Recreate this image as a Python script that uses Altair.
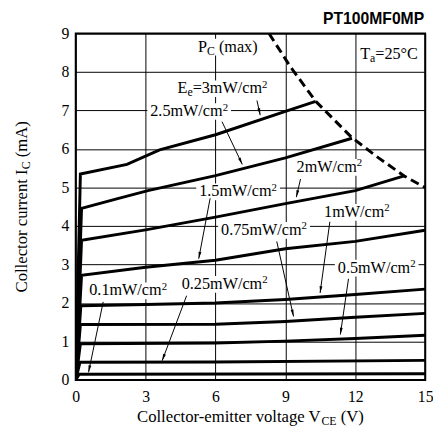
import math
import altair as alt
import pandas as pd

# ---------------- data ----------------
X_TICKS = [0, 3, 6, 9, 12, 15]
Y_TICKS = [0, 1, 2, 3, 4, 5, 6, 7, 8, 9]

# Ic-Vce curves (V in volts, I in mA), one pair of lists per irradiance
V_30 = [0, 0.20, 2.2, 3.6, 6.0, 9.0, 10.3]
I_30 = [0, 5.35, 5.60, 5.98, 6.37, 6.98, 7.24]
V_25 = [0, 0.25, 1.8, 3.1, 6.0, 9.0, 11.86]
I_25 = [0, 4.46, 4.71, 4.92, 5.31, 5.77, 6.28]
V_20 = [0, 0.25, 3.0, 6.0, 9.0, 12.0, 14.1]
I_20 = [0, 3.63, 3.90, 4.23, 4.58, 4.92, 5.30]
V_15 = [0, 0.25, 3.0, 6.0, 9.0, 12.0, 15.0]
I_15 = [0, 2.72, 2.93, 3.11, 3.41, 3.60, 3.89]
V_10 = [0, 0.22, 3.0, 6.0, 9.0, 12.0, 15.0]
I_10 = [0, 1.93, 1.96, 2.00, 2.09, 2.22, 2.36]
V_075 = [0, 0.20, 6.0, 9.0, 12.0, 15.0]
I_075 = [0, 1.44, 1.45, 1.52, 1.63, 1.73]
V_05 = [0, 0.20, 6.0, 9.0, 12.0, 15.0]
I_05 = [0, 0.94, 0.96, 1.01, 1.08, 1.16]
V_025 = [0, 0.18, 6.0, 15.0]
I_025 = [0, 0.46, 0.47, 0.51]
V_01 = [0, 0.15, 15.0]
I_01 = [0, 0.15, 0.16]

CURVES = [("3", V_30, I_30), ("2.5", V_25, I_25), ("2", V_20, I_20),
          ("1.5", V_15, I_15), ("1", V_10, I_10), ("0.75", V_075, I_075),
          ("0.5", V_05, I_05), ("0.25", V_025, I_025), ("0.1", V_01, I_01)]

# Pc(max) dashed boundary
PC_V = [8.3, 9.2, 10.3, 11.85, 13.0, 14.1, 15.0]
PC_I = [9.0, 8.15, 7.24, 6.30, 5.77, 5.30, 5.00]

# plain annotation labels (left / baseline anchor, data units); unit squared
LABEL_TEXT = ["2.5mW/cm", "1.5mW/cm", "2mW/cm", "1mW/cm",
              "0.75mW/cm", "0.5mW/cm", "0.25mW/cm", "0.1mW/cm"]
LABEL_SUP = "2"
LABEL_V = [3.20, 5.30, 9.48, 10.66, 6.24, 11.25, 4.55, 0.58]
LABEL_I = [6.86, 4.77, 5.41, 4.24, 3.77, 2.79, 2.37, 2.20]

# leader arrows (tail -> tip)
ARROW_V1 = [7.78, 6.28, 5.77, 9.65, 10.91, 8.63, 11.71, 4.76, 1.18]
ARROW_I1 = [7.26, 6.71, 4.72, 5.22, 4.11, 3.60, 2.63, 2.19, 2.03]
ARROW_V2 = [7.92, 7.15, 5.28, 9.47, 10.49, 9.35, 11.36, 3.71, 0.55]
ARROW_I2 = [6.88, 5.60, 3.15, 4.75, 2.26, 1.65, 1.18, 0.50, 0.20]

# ---------------- layout ----------------
W, H = 356, 353
SX, SY = W / 15.0, H / 9.0
SERIF = "Liberation Serif"
SANS = "Liberation Sans"
LFS = 16.5   # annotation font size
TFS = 17     # axis title font size
SUB = 12
SUP = 11
SUP_DY = -5.5

TIMES = {'C': 667, 'o': 500, 'l': 278, 'e': 444, 'c': 444, 't': 278, 'r': 333,
         '-': 333, 'm': 778, 'i': 278, ' ': 250, 'v': 500, 'a': 444, 'g': 500,
         'V': 722, 'u': 500, 'n': 500, 'I': 333, '(': 333, ')': 333, 'A': 722,
         'E': 611, 'P': 556, 'x': 500, 'T': 611, '=': 564, '.': 250, 'W': 944,
         '/': 278, '°': 400}


def tw(s, size):
    return sum(TIMES.get(ch, 500) for ch in s) * size / 1000.0


xs = alt.Scale(domain=[0, 15], nice=False, zero=False)
ys = alt.Scale(domain=[0, 9], nice=False, zero=False)
XAX = alt.Axis(values=X_TICKS, title=None, grid=True, tickSize=0, labelPadding=9,
               domain=False, labelFlush=False, labelFont=SERIF, labelFontSize=16,
               labelColor="black", gridColor="black", gridWidth=1)
YAX = alt.Axis(values=Y_TICKS, title=None, grid=True, tickSize=0, labelPadding=7,
               domain=False, labelFlush=False, labelFont=SERIF, labelFontSize=16,
               labelColor="black", gridColor="black", gridWidth=1)
X = alt.X("V:Q", scale=xs, axis=XAX)
Y = alt.Y("I:Q", scale=ys, axis=YAX)

layers = []

# white boxes behind annotation labels
box_rows = []


def add_box(v, i, width):
    box_rows.append({"V": v - 3 / SX, "V2": v + (width + 3) / SX,
                     "I": i - 4 / SY, "I2": i + 13 / SY})


for t, v, i in zip(LABEL_TEXT, LABEL_V, LABEL_I):
    add_box(v, i, tw(t, LFS) + tw(LABEL_SUP, SUP))

# labels with sub/superscripts: (pieces, V, I) ; piece = (text, size, dy, gap_before)
PC_LABEL = ([("P", LFS, 0, 0), ("C", SUB, 3, 0), ("(max)", LFS, 0, tw(" ", LFS))], 5.25, 8.53)
EE_LABEL = ([("E", LFS, 0, 0), ("e", SUB, 3, 0), ("=3mW/cm", LFS, 0, 0),
             ("2", SUP, SUP_DY, 0)], 4.37, 7.45)
TA_LABEL = ([("T", LFS, 0, 0), ("a", SUB, 3, 0), ("=25°C", LFS, 0, 0)], 12.21, 8.34)


def pieces_width(pieces):
    return sum(tw(t, s) + g for t, s, _, g in pieces)


for pcs, v, i in (PC_LABEL, EE_LABEL):
    add_box(v, i, pieces_width(pcs))

boxes = pd.DataFrame(box_rows)
layers.append(alt.Chart(boxes).mark_rect(color="white").encode(
    x=X, x2="V2:Q", y=Y, y2="I2:Q"))

# curves
rows = []
for name, vv, ii in CURVES:
    for k, (v, i) in enumerate(zip(vv, ii)):
        rows.append({"curve": name, "k": k, "V": v, "I": i})
curve_df = pd.DataFrame(rows)
layers.append(alt.Chart(curve_df).mark_line(color="black", strokeWidth=3, clip=True,
                                            strokeJoin="miter").encode(
    x=X, y=Y, detail="curve:N", order="k:Q"))

# Pc(max) dashed line
pc_df = pd.DataFrame({"V": PC_V, "I": PC_I})
layers.append(alt.Chart(pc_df).mark_line(color="black", strokeWidth=3,
                                         strokeDash=[9, 5], clip=True).encode(x=X, y=Y))

# leader lines and arrowheads
arr = pd.DataFrame({"V": ARROW_V1, "I": ARROW_I1, "V2": ARROW_V2, "I2": ARROW_I2})
layers.append(alt.Chart(arr).mark_rule(color="black", strokeWidth=1).encode(
    x=X, y=Y, x2="V2:Q", y2="I2:Q"))
tips = pd.DataFrame({
    "V": ARROW_V2, "I": ARROW_I2,
    "ang": [math.degrees(math.atan2((v2 - v1) * SX, (i2 - i1) * SY)) % 360
            for v1, i1, v2, i2 in zip(ARROW_V1, ARROW_I1, ARROW_V2, ARROW_I2)]})
layers.append(alt.Chart(tips).mark_point(
    shape="M0,0L0.42,2L-0.42,2Z", filled=True, color="black", opacity=1, size=49,
    strokeWidth=0).encode(x=X, y=Y, angle=alt.Angle("ang:Q", scale=None)))

# annotation labels + their superscript 2
lab = pd.DataFrame({"V": LABEL_V, "I": LABEL_I, "t": LABEL_TEXT})
layers.append(alt.Chart(lab).mark_text(align="left", baseline="alphabetic", font=SERIF,
                                       fontSize=LFS, color="black").encode(
    x=X, y=Y, text="t:N"))
sup = pd.DataFrame({"V": [v + tw(t, LFS) / SX for t, v in zip(LABEL_TEXT, LABEL_V)],
                    "I": LABEL_I, "t": [LABEL_SUP] * len(LABEL_TEXT)})
layers.append(alt.Chart(sup).mark_text(align="left", baseline="alphabetic", font=SERIF,
                                       fontSize=SUP, dy=SUP_DY, color="black").encode(
    x=X, y=Y, text="t:N"))

for pcs, v, i in (PC_LABEL, EE_LABEL, TA_LABEL):
    off = 0.0
    for t, s, dy, gap in pcs:
        off += gap
        df = pd.DataFrame({"V": [v], "I": [i], "t": [t]})
        layers.append(alt.Chart(df).mark_text(align="left", baseline="alphabetic",
                                              font=SERIF, fontSize=s, dx=off, dy=dy,
                                              color="black").encode(x=X, y=Y, text="t:N"))
        off += tw(t, s)

# axis titles built from pieces (for the subscripts)
XT = [("Collector-emitter voltage V", TFS, 0, 0), ("CE", SUB, 3, 0), ("(V)", TFS, 0, tw(" ", TFS))]
YT = [("Collector current I", TFS, 0, 0), ("C", SUB, 3, 0), ("(mA)", TFS, 0, tw(" ", TFS))]

x_start = W / 2 - pieces_width(XT) / 2
off = x_start
for t, s, dy, gap in XT:
    off += gap
    layers.append(alt.Chart(pd.DataFrame({"t": [t]})).mark_text(
        align="left", baseline="alphabetic", font=SERIF, fontSize=s, color="black").encode(
        x=alt.value(off), y=alt.value(396 + dy), text="t:N"))
    off += tw(t, s)

y_start = H / 2 + pieces_width(YT) / 2
off = y_start
for t, s, dy, gap in YT:
    off -= gap
    layers.append(alt.Chart(pd.DataFrame({"t": [t]})).mark_text(
        align="left", baseline="alphabetic", font=SERIF, fontSize=s, angle=270,
        color="black").encode(x=alt.value(-50 + dy), y=alt.value(off), text="t:N"))
    off -= tw(t, s)

# part number
layers.append(alt.Chart(pd.DataFrame({"t": ["PT100MF0MP"]})).mark_text(
    align="right", baseline="alphabetic", font=SANS, fontSize=16, fontWeight="bold",
    color="black").encode(x=alt.value(355), y=alt.value(-10), text="t:N"))

chart = alt.layer(*layers).properties(
    width=W, height=H,
    padding={"left": 69, "top": 22, "right": 8, "bottom": 50},
    autosize=alt.AutoSizeParams(type="none"),
).configure_view(stroke="black", strokeWidth=2).configure_axis(
    labelFont=SERIF, labelFontSize=16, labelColor="black",
    gridColor="black", gridWidth=1, gridOpacity=1,
)

chart.save("out.html", embed_options={"renderer": "svg", "actions": False})
